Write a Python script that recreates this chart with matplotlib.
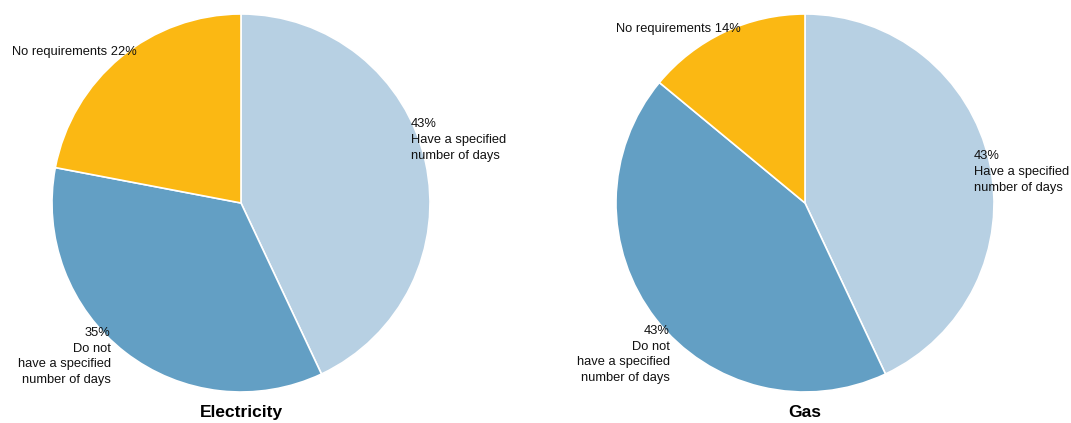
import numpy as np
import matplotlib.pyplot as plt

plt.rcParams['font.family'] = ['Liberation Sans Narrow', 'Liberation Sans', 'DejaVu Sans']

titles = ['Electricity', 'Gas']
categories = ['Have a specified\nnumber of days', 'Do not\nhave a specified\nnumber of days', 'No requirements']
elec_vals = [43, 35, 22]
gas_vals = [43, 43, 14]
colors = ['#b7d0e3', '#639fc4', '#fbb813']

# label anchors (data units, pie radius = 1)
elec_pos = [(0.90, 0.45, 'left'), (-0.69, -0.655, 'right'), (-0.553, 0.83, 'right')]
gas_pos = [(0.894, 0.28, 'left'), (-0.714, -0.645, 'right'), (-0.34, 0.955, 'right')]

W, H = 1071, 423
fig = plt.figure(figsize=(W/100, H/100), dpi=100)

def draw(cx, cy, r, vals, pos, title):
    ax = fig.add_axes([(cx - r)/W, (H - cy - r)/H, 2*r/W, 2*r/H])
    ax.pie(vals, colors=colors, startangle=90, counterclock=False, radius=1,
           wedgeprops=dict(edgecolor='white', linewidth=1.2))
    ax.set_xlim(-1, 1)
    ax.set_ylim(-1, 1)
    ax.set_aspect('equal')
    ax.axis('off')
    for i in range(len(vals)):
        x, y, ha = pos[i]
        if i == 2:
            txt = '%s %d%%' % (categories[i], vals[i])
            ax.text(x, y, txt, ha=ha, va='top', fontsize=9.3, color='#111111')
        else:
            txt = '%d%%\n%s' % (vals[i], categories[i])
            ax.text(x, y, txt, ha=ha, va='top', fontsize=9.3, color='#111111',
                    multialignment=ha, linespacing=1.42)
    ax.text(0, -1.11, title, ha='center', va='center', fontsize=12.5, fontweight='bold', clip_on=False)

draw(241, 203, 189, elec_vals, elec_pos, titles[0])
draw(805, 203, 189, gas_vals, gas_pos, titles[1])

fig.savefig('out.png', dpi=100)
